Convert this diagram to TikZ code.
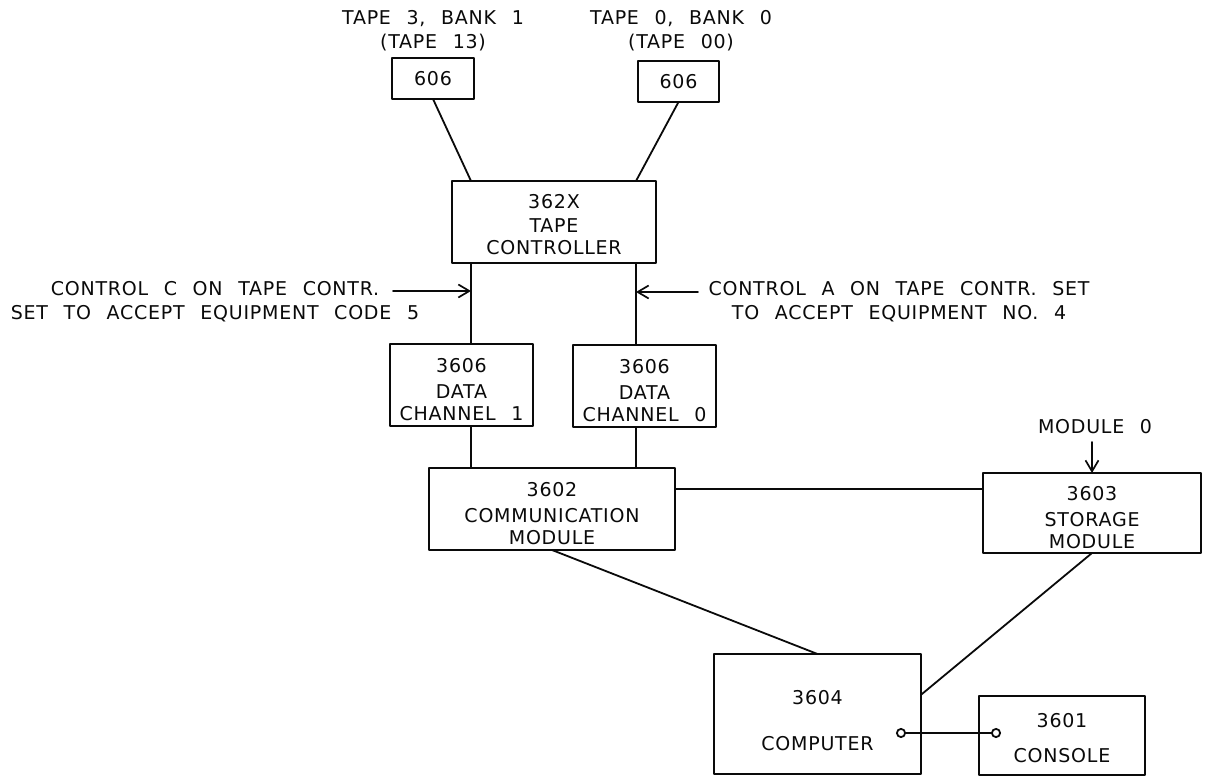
\documentclass[tikz,border=0pt]{standalone}
\usepackage{fontspec}
\setmainfont{DejaVu Sans}[LetterSpace=4,WordSpace=2.3]
\usetikzlibrary{arrows.meta,calc}
\definecolor{PlanPaper}{gray}{1}
\definecolor{PlanInk}{gray}{0.04}
\newcommand{\liftto}[1]{\rule{0pt}{#1}}
\tikzset{
    sys/diagram/.style={
        font=\fontsize{19}{22}\selectfont,
        draw=PlanInk,
        text=PlanInk,
        line width=1.8pt,
        line cap=round,
        line join=round,
        every node/.style={inner sep=0pt, outer sep=0pt}
    },
    sys/unit/.style={draw=PlanInk, line width=2pt, align=center, fill=PlanPaper},
    sys/link/.style={draw=PlanInk, line width=1.8pt},
    sys/pointer/.style={
        draw=PlanInk, line width=1.7pt,
        -{Straight Barb[length=11pt, width=13pt]}
    },
    sys/jack/.style={
        draw=PlanInk, line width=1.8pt,
        {Circle[open, length=10pt, width=10pt]}-{Circle[open, length=10pt, width=10pt]}
    },
    sys/note/.style={align=center}
}

\begin{document}
\begin{tikzpicture}[sys/diagram, x=1pt, y=-1pt]
    \useasboundingbox[fill=PlanPaper] (0,0) rectangle (1212,778);
    % units
    \node[sys/unit, minimum width=82pt, minimum height=41pt] (tapeL) at (433,78.5) {606};
    \node[sys/unit, minimum width=81pt, minimum height=41pt] (tapeR) at (678.5,81.5) {606};
    \node[sys/unit, minimum width=204pt, minimum height=82pt] (ctrl) at (554,222)
        {\liftto{20pt}362X\\[2pt]TAPE\\CONTROLLER};
    \node[sys/unit, minimum width=143pt, minimum height=82pt] (dcI) at (461.5,385)
        {\liftto{24pt}3606\\[4pt]DATA\\CHANNEL 1};
    \node[sys/unit, minimum width=143pt, minimum height=82pt] (dcO) at (644.5,386)
        {\liftto{24pt}3606\\[4pt]DATA\\CHANNEL 0};
    \node[sys/unit, minimum width=246pt, minimum height=82pt] (comm) at (552,509)
        {\liftto{24pt}3602\\[4pt]COMMUNICATION\\MODULE};
    \node[sys/unit, minimum width=218pt, minimum height=80pt] (stor) at (1092,513)
        {\liftto{24pt}3603\\[4pt]STORAGE\\MODULE};
    \node[sys/unit, minimum width=207pt, minimum height=120pt] (comp) at (817.5,714)
        {\liftto{28pt}3604\\[24pt]COMPUTER};
    \node[sys/unit, minimum width=166pt, minimum height=79pt] (cons) at (1062,735.5)
        {\liftto{19pt}3601\\[13pt]CONSOLE};
    % labels
    \node[sys/note] (tapeLabelL) at (433,31) {TAPE 3, BANK 1\\[2pt](TAPE 13)};
    \node[sys/note] (tapeLabelR) at (681,31) {TAPE 0, BANK 0\\[2pt](TAPE 00)};
    \node[sys/note] (noteC) at (215,302)
        {CONTROL C ON TAPE CONTR.\\[2pt]SET TO ACCEPT EQUIPMENT CODE 5};
    \node[sys/note] (noteA) at (899,302)
        {CONTROL A ON TAPE CONTR. SET\\[2pt]TO ACCEPT EQUIPMENT NO. 4};
    \node[sys/note] (modLabel) at (1095,427) {MODULE 0};
    % buses
    \coordinate (busC) at (471,0);
    \coordinate (busA) at (636,0);
    \coordinate (railY) at (0,489);
    \draw[sys/link] (tapeL.south) -- (ctrl.north -| busC);
    \draw[sys/link] (tapeR.south) -- (ctrl.north -| busA);
    \draw[sys/link] (ctrl.south -| busC) -- (dcI.north -| busC);
    \draw[sys/link] (ctrl.south -| busA) -- (dcO.north -| busA);
    \draw[sys/link] (dcI.south -| busC) -- (comm.north -| busC);
    \draw[sys/link] (dcO.south -| busA) -- (comm.north -| busA);
    \draw[sys/link] (comm.east |- railY) -- (stor.west |- railY);
    \draw[sys/link] (comm.south) -- (comp.north);
    \draw[sys/link] (stor.south) -- ($(comp.north east)!0.34!(comp.south east)$);
    % pointers
    \coordinate (tailC) at (393,291);
    \coordinate (tailA) at (698,292);
    \coordinate (modTail) at ($(stor.north)+(0,-31)$);
    \draw[sys/pointer] (tailC) -- (tailC -| busC);
    \draw[sys/pointer] (tailA) -- (tailA -| busA);
    \draw[sys/pointer] (modTail) -- (stor.north);
    % console line
    \coordinate (jackComp) at (896,733);
    \coordinate (jackCons) at (1001,733);
    \draw[sys/jack] (jackComp) -- (jackCons);
\end{tikzpicture}
\end{document}
